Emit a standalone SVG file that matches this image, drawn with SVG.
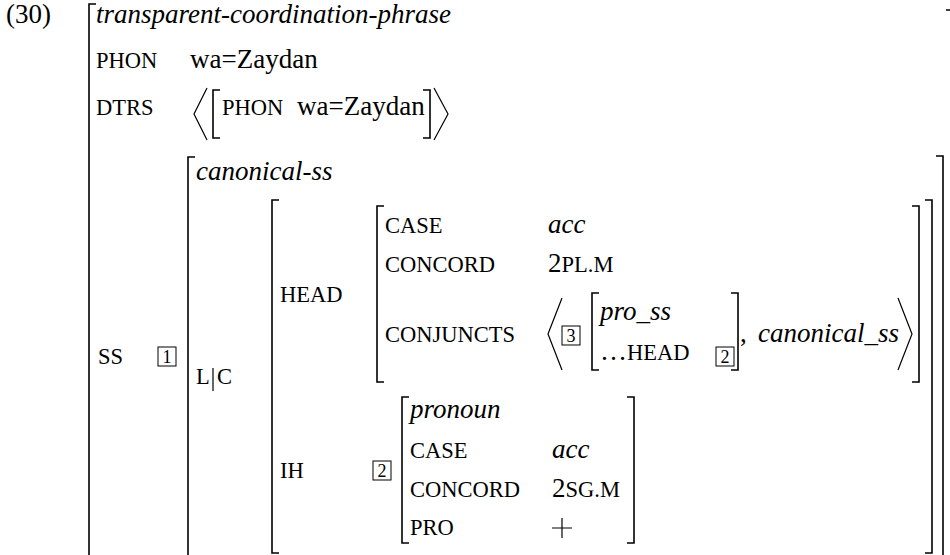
<svg xmlns="http://www.w3.org/2000/svg" width="950" height="555" viewBox="0 0 950 555">
<style>
text{font-family:"Liberation Serif","Times New Roman",serif;font-size:27px;fill:#000}
.i{font-style:italic}
.sc{font-size:22.5px}
.tg{font-size:18px;text-anchor:middle}
.br{fill:none;stroke:#000;stroke-width:1.6}
.ln{fill:none;stroke:#000;stroke-width:1.2}
.bx{fill:none;stroke:#000;stroke-width:1}
</style>
<rect width="950" height="555" fill="#fff"/>
<g id="label"><text x="6" y="23">(30)</text></g>
<g id="outer">
<path class="br" d="M96 4H89V560"/>
<path class="br" d="M946 10H956V560"/>
<text class="i" x="96" y="23">transparent-coordination-phrase</text>
<text class="sc" x="96" y="68">PHON</text>
<text x="190" y="68">wa=Zaydan</text>
<text class="sc" x="96" y="115">DTRS</text>
<path class="ln" d="M207 88L194 114L207 140M434 88L448 114L434 140"/>
<path class="br" d="M220 90H213V138H220M423 90H430V138H423"/>
<text class="sc" x="222" y="115">PHON</text>
<text x="297" y="115">wa=Zaydan</text>
<text class="sc" x="98" y="364">SS</text>
<rect class="bx" x="158" y="347" width="18" height="19"/>
<text class="tg" x="167" y="363">1</text>
</g>
<g id="canonical-ss">
<path class="br" d="M195 157H188V560"/>
<path class="br" d="M936 156H943V560"/>
<text class="i" x="196" y="180">canonical-ss</text>
<text class="sc" x="196" y="384">L</text>
<path class="ln" d="M213 368V391"/>
<text class="sc" x="217" y="384">C</text>
</g>
<g id="lc-value">
<path class="br" d="M279 200H272V553H279"/>
<path class="br" d="M925 200H932V553H925"/>
<text class="sc" x="280" y="302">HEAD</text>
<text class="sc" x="280" y="478">IH</text>
</g>
<g id="head-value">
<path class="br" d="M384 206H377V382H384"/>
<path class="br" d="M912 206H919V382H912"/>
<text class="sc" x="385" y="233">CASE</text>
<text class="i" x="548" y="233">acc</text>
<text class="sc" x="385" y="272">CONCORD</text>
<text x="548" y="272">2<tspan class="sc">PL.M</tspan></text>
<text class="sc" x="385" y="342">CONJUNCTS</text>
<path class="ln" d="M562 298L548 334L562 370M898 298L912 334L898 370"/>
<rect class="bx" x="562" y="326" width="18" height="19"/>
<text class="tg" x="571" y="342">3</text>
<path class="br" d="M599 293H592V370H599M731 293H738V370H731"/>
<text class="i" x="600" y="320">pro_ss</text>
<text x="600" y="360">…<tspan class="sc">HEAD</tspan></text>
<rect class="bx" x="716" y="347" width="18" height="19"/>
<text class="tg" x="725" y="363">2</text>
<text x="740" y="342">,</text>
<text class="i" x="758" y="342">canonical_ss</text>
</g>
<g id="ih-value">
<rect class="bx" x="373" y="461" width="18" height="19"/>
<text class="tg" x="382" y="477">2</text>
<path class="br" d="M409 397H402V543H409"/>
<path class="br" d="M627 397H634V543H627"/>
<text class="i" x="410" y="418">pronoun</text>
<text class="sc" x="410" y="458">CASE</text>
<text class="i" x="552" y="458">acc</text>
<text class="sc" x="410" y="497">CONCORD</text>
<text x="552" y="497">2<tspan class="sc">SG.M</tspan></text>
<text class="sc" x="410" y="535">PRO</text>
<path class="ln" d="M552 528H572M562 518V538"/>
</g>
</svg>
